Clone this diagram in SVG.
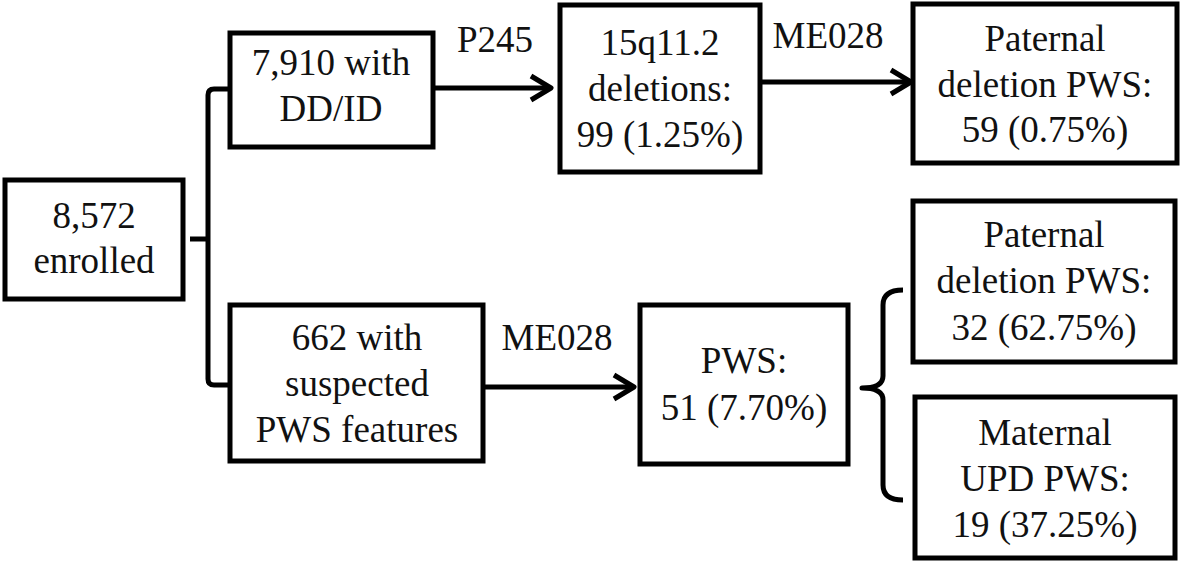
<svg xmlns="http://www.w3.org/2000/svg" width="1180" height="566" viewBox="0 0 1180 566">
<style>
.box{fill:#fff;stroke:#000;stroke-width:5}
.ln{fill:none;stroke:#000;stroke-width:5;stroke-linejoin:round}
.t{font-family:'Liberation Serif','DejaVu Serif','Noto Serif',serif;font-size:37px;fill:#111;text-anchor:middle}
</style>
<rect width="1180" height="566" fill="#fff"/>
<g id="connectors">
<path class="ln" d="M228,89 L214,89 Q208,89 208,95 L208,379 Q208,385 214,385 L228,385"/>
<path class="ln" d="M190,239 L208,239"/>
<path class="ln" d="M433,88 L550,88"/>
<path class="ln" d="M531,76 L551,88 L531,100"/>
<path class="ln" d="M760,82 L910,82"/>
<path class="ln" d="M891,70 L911,82 L891,94"/>
<path class="ln" d="M483,387 L633,387"/>
<path class="ln" d="M614,375 L634,387 L614,399"/>
<path class="ln" d="M903,290 Q883,290 883,305 L883,376 Q883,388 862,388 Q883,388 883,400 L883,485 Q883,500 903,500"/>
<text class="t" x="495" y="52">P245</text>
<text class="t" x="828" y="48">ME028</text>
<text class="t" x="557" y="350">ME028</text>
</g>
<g id="n-enrolled">
<rect class="box" x="5" y="180" width="178" height="119"/>
<text class="t" x="94" y="228">8,572</text>
<text class="t" x="94" y="273">enrolled</text>
</g>
<g id="n-ddid">
<rect class="box" x="230" y="33" width="203" height="114"/>
<text class="t" x="331" y="75">7,910 with</text>
<text class="t" x="331" y="121">DD/ID</text>
</g>
<g id="n-deletions">
<rect class="box" x="560" y="5" width="200" height="167"/>
<text class="t" x="660" y="55">15q11.2</text>
<text class="t" x="660" y="101">deletions:</text>
<text class="t" x="660" y="147">99 (1.25%)</text>
</g>
<g id="n-patdel1">
<rect class="box" x="913" y="4" width="264" height="159"/>
<text class="t" x="1045" y="51">Paternal</text>
<text class="t" x="1045" y="97">deletion PWS:</text>
<text class="t" x="1045" y="142">59 (0.75%)</text>
</g>
<g id="n-suspected">
<rect class="box" x="230" y="305" width="253" height="156"/>
<text class="t" x="357" y="350">662 with</text>
<text class="t" x="357" y="396">suspected</text>
<text class="t" x="357" y="442">PWS features</text>
</g>
<g id="n-pws">
<rect class="box" x="640" y="305" width="208" height="159"/>
<text class="t" x="744" y="373">PWS:</text>
<text class="t" x="744" y="420">51 (7.70%)</text>
</g>
<g id="n-patdel2">
<rect class="box" x="913" y="201" width="262" height="161"/>
<text class="t" x="1044" y="247">Paternal</text>
<text class="t" x="1044" y="293">deletion PWS:</text>
<text class="t" x="1044" y="340">32 (62.75%)</text>
</g>
<g id="n-maternal">
<rect class="box" x="915" y="397" width="260" height="161"/>
<text class="t" x="1045" y="445">Maternal</text>
<text class="t" x="1045" y="491">UPD PWS:</text>
<text class="t" x="1045" y="537">19 (37.25%)</text>
</g>
</svg>
